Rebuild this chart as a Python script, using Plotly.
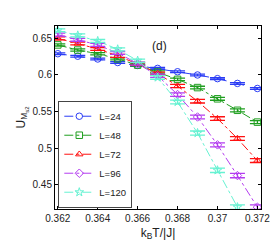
import plotly.graph_objects as go

# temperatures k_B T/|J|
T = [0.362, 0.363, 0.364, 0.365, 0.366, 0.367, 0.368, 0.369, 0.370, 0.371, 0.372]

labels = ["L=24", "L=48", "L=72", "L=96", "L=120"]

u24 = [0.629, 0.6256, 0.6218, 0.617, 0.613, 0.609, 0.6044, 0.600, 0.595, 0.5885, 0.5816]
u48 = [0.641, 0.634, 0.629, 0.622, 0.6135, 0.604, 0.594, 0.5828, 0.5675, 0.5518, 0.5357]
u72 = [0.650, 0.643, 0.6355, 0.626, 0.615, 0.602, 0.585, 0.5642, 0.5405, 0.5133, 0.4832]
u96 = [0.655, 0.648, 0.641, 0.630, 0.6155, 0.599, 0.5733, 0.5427, 0.5047, 0.4628, 0.4197]
u120 = [0.661, 0.654, 0.6464, 0.635, 0.6195, 0.5966, 0.5632, 0.5208, 0.4700, 0.4197]

e24 = [0.0012, 0.0012, 0.0012, 0.0012, 0.0012, 0.0012, 0.0012, 0.0012, 0.0012, 0.0012, 0.0012]
e48 = [0.0015, 0.0015, 0.0015, 0.0015, 0.0015, 0.0015, 0.0018, 0.0018, 0.002, 0.002, 0.002]
e72 = [0.002, 0.002, 0.002, 0.002, 0.002, 0.002, 0.0022, 0.0024, 0.0025, 0.0026, 0.0026]
e96 = [0.002, 0.002, 0.002, 0.002, 0.002, 0.0022, 0.0024, 0.0026, 0.0028, 0.003, 0.003]
e120 = [0.002, 0.002, 0.002, 0.002, 0.0022, 0.0024, 0.0026, 0.0028, 0.003, 0.003]

series = [u24, u48, u72, u96, u120]
errors = [e24, e48, e72, e96, e120]
colors = ["#2a3cf5", "#1f9e1f", "#ff1010", "#b43cf0", "#66f2d2"]
symbols = ["circle-open", "square-open", "triangle-up-open", "diamond-open", "star-open"]
dashes = ["dash", "dashdot", "dashdot", "dashdot", "dashdot"]

fig = go.Figure()
for lab, ys, es, c, s, d in zip(labels, series, errors, colors, symbols, dashes):
    fig.add_trace(go.Scatter(
        x=T[:len(ys)], y=ys, name=lab, mode="lines+markers",
        line=dict(color=c, width=1, dash=d),
        marker=dict(symbol=s, size=6.5, color=c, line=dict(width=1, color=c)),
        error_y=dict(type="data", array=es, color=c, thickness=1.3, width=7.5),
        cliponaxis=True,
    ))

axis_common = dict(
    showline=True, linecolor="black", linewidth=1, mirror="ticks",
    ticks="inside", ticklen=3, tickcolor="black", showgrid=False, zeroline=False,
    tickfont=dict(family="Liberation Sans, Arial", size=10, color="#222"),
)

fig.update_xaxes(
    range=[0.36186, 0.37218], tickvals=[0.362, 0.364, 0.366, 0.368, 0.37, 0.372],
    ticktext=["0.362", "0.364", "0.366", "0.368", "0.37", "0.372"],
    title=dict(text="k<sub>B</sub>T/|J|", font=dict(family="Liberation Sans, Arial", size=12, color="#222"), standoff=5),
    **axis_common,
)
fig.update_yaxes(
    range=[0.4172, 0.6668], tickvals=[0.45, 0.5, 0.55, 0.6, 0.65],
    ticktext=["0.45", "0.5", "0.55", "0.6", "0.65"],
    title=dict(text="U<sub>M<sub>s2</sub></sub>", font=dict(family="Liberation Sans, Arial", size=12, color="#222"), standoff=4),
    **axis_common,
)

fig.add_annotation(text="(d)", x=0.507, y=0.94, xref="paper", yref="paper",
                   showarrow=False, font=dict(family="Liberation Sans, Arial", size=12, color="#222"))

fig.update_layout(
    width=280, height=241,
    margin=dict(l=46, r=27, t=18, b=30),
    plot_bgcolor="white", paper_bgcolor="white",
    showlegend=True,
    legend=dict(x=0.016, y=0.007, xanchor="left", yanchor="bottom",
                bgcolor="white", bordercolor="#444", borderwidth=1,
                font=dict(family="Liberation Sans, Arial", size=9.5, color="#222"),
                itemwidth=30, tracegroupgap=0),
)

fig.write_html("out.html")
